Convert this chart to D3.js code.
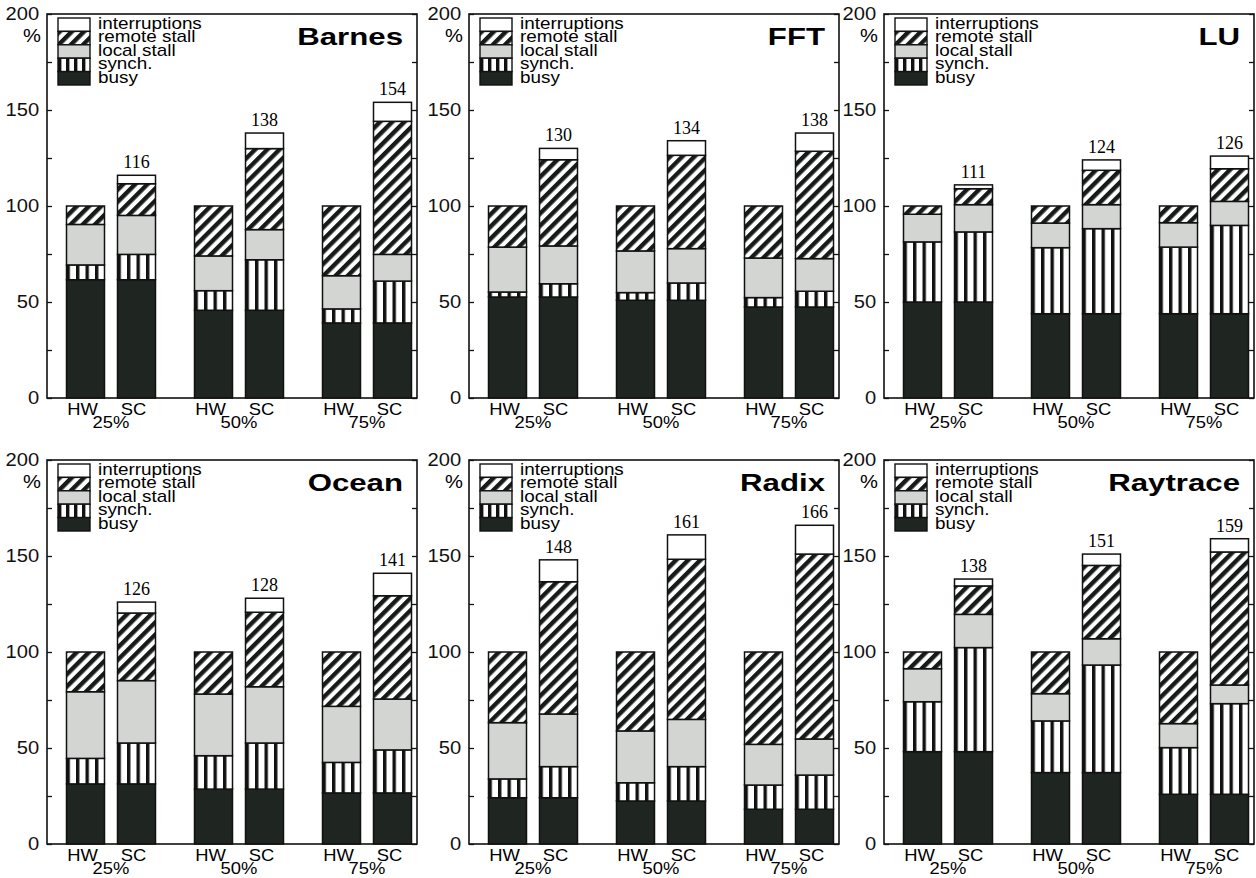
<!DOCTYPE html>
<html>
<head>
<meta charset="utf-8">
<script src="https://cdn.jsdelivr.net/npm/d3@7"></script>
<style>
  body { margin: 0; background: #fff; }
  svg { display: block; }
</style>
</head>
<body>
<div id="chart"></div>
<script>
// benchmarks, one panel each (row-major)
const benchmarks = ['Barnes', 'FFT', 'LU', 'Ocean', 'Radix', 'Raytrace'];
const procs = ['25%', '50%', '75%'];
const systems = ['HW', 'SC'];
const layers = ['busy', 'synch', 'local', 'remote', 'interrupts'];
const legendKeys = ['interrupts', 'remote', 'local', 'synch', 'busy'];
const legendLabels = ['interruptions', 'remote stall', 'local stall', 'synch.', 'busy'];

// segment values, order per benchmark: HW 25, SC 25, HW 50, SC 50, HW 75, SC 75
const busy = [
  [61.6, 61.6, 45.7, 45.7, 39.1, 39.1],
  [52.6, 52.6, 50.9, 50.9, 47.4, 47.4],
  [50.0, 50.0, 43.9, 43.9, 43.9, 43.9],
  [31.3, 31.3, 28.6, 28.6, 26.6, 26.6],
  [24.1, 24.1, 22.4, 22.4, 18.1, 18.1],
  [48.1, 48.1, 37.2, 37.2, 25.9, 25.9]
];
const synch = [
  [7.7, 13.2, 10.2, 26.3, 7.3, 21.8],
  [2.6, 6.9, 4.0, 9.0, 4.9, 8.2],
  [31.3, 36.5, 34.4, 44.3, 34.7, 46.0],
  [13.3, 21.3, 17.4, 24.0, 15.9, 22.4],
  [9.8, 16.2, 9.5, 17.9, 12.6, 17.8],
  [26.0, 54.2, 26.9, 56.0, 24.3, 47.2]
];
const local = [
  [21.1, 20.3, 18.1, 15.7, 17.3, 13.9],
  [23.4, 19.7, 21.7, 17.9, 20.6, 17.0],
  [14.4, 14.2, 12.8, 12.5, 12.7, 12.5],
  [34.7, 32.5, 32.1, 29.3, 29.2, 26.5],
  [29.3, 27.4, 27.0, 24.6, 21.2, 18.8],
  [17.2, 17.3, 14.2, 13.7, 12.5, 9.7]
];
const remote = [
  [9.6, 16.5, 26.0, 42.2, 36.3, 69.3],
  [21.4, 44.9, 23.4, 48.6, 27.1, 55.9],
  [4.3, 8.3, 8.9, 17.9, 8.7, 17.0],
  [20.7, 35.2, 21.9, 38.8, 28.3, 53.8],
  [36.8, 68.9, 41.1, 83.4, 48.1, 96.3],
  [8.7, 14.8, 21.7, 38.2, 37.3, 69.3]
];
const interrupts = [
  [0, 4.4, 0, 8.1, 0, 9.9],
  [0, 5.9, 0, 7.6, 0, 9.5],
  [0, 2.0, 0, 5.4, 0, 6.6],
  [0, 5.7, 0, 7.3, 0, 11.7],
  [0, 11.4, 0, 12.7, 0, 15.0],
  [0, 3.6, 0, 5.9, 0, 6.9]
];
// numbers printed above the SC bars
const scTotals = [
  [116, 138, 154],
  [130, 134, 138],
  [111, 124, 126],
  [126, 128, 141],
  [148, 161, 166],
  [138, 151, 159]
];
const yTicks = [0, 25, 50, 75, 100, 125, 150, 175, 200];

const width = 1256, height = 878,
    panelLeft = [47, 469, 884],
    panelTop = [14, 460],
    panelW = 370, panelH = 384;

const sans = '"Liberation Sans", Arial, Helvetica, sans-serif',
    serif = '"Liberation Serif", "Times New Roman", serif';

const svg = d3.select('#chart').append('svg')
    .attr('width', width)
    .attr('height', height);

const defs = svg.append('defs');

// vertical stripes, 4 per bar, aligned on each bar
let vs = defs.append('pattern')
    .attr('id', 'vstripe')
    .attr('patternUnits', 'objectBoundingBox')
    .attr('patternContentUnits', 'userSpaceOnUse')
    .attr('width', 0.25).attr('height', 1);
vs.append('rect').attr('width', 40).attr('height', 2000).attr('fill', '#fff');
vs.append('rect').attr('width', 3.4).attr('height', 2000).attr('fill', '#111');

// diagonal hatch
let hatch = defs.append('pattern')
    .attr('id', 'hatch')
    .attr('patternUnits', 'userSpaceOnUse')
    .attr('width', 8.6).attr('height', 8.6)
    .attr('patternTransform', 'rotate(45)');
hatch.append('rect').attr('width', 8.6).attr('height', 8.6).attr('fill', '#fff');
hatch.append('rect').attr('width', 4.4).attr('height', 8.6).attr('fill', '#161a18');

const fills = {
  busy: '#1f2521',
  synch: 'url(#vstripe)',
  local: '#d3d5d3',
  remote: 'url(#hatch)',
  interrupts: '#fff'
};

const y = d3.scaleLinear().domain([0, 200]).range([panelH, 0]);
const xGroup = d3.scaleBand().domain(procs).range([0, 384]);
const xSys = d3.scaleBand().domain(systems).range([19.5, 108.5]).paddingInner(0.255);
const stack = d3.stack().keys(layers);

benchmarks.forEach((name, b) => {
  let g = svg.append('g')
      .attr('transform', `translate(${panelLeft[b % 3]}, ${panelTop[Math.floor(b / 3)]})`);

  let rows = [];
  procs.forEach((p, i) => systems.forEach((s, j) => {
    let k = i * 2 + j;
    rows.push({proc: p, sys: s, busy: busy[b][k], synch: synch[b][k],
      local: local[b][k], remote: remote[b][k], interrupts: interrupts[b][k]});
  }));

  // frame
  g.append('rect')
      .attr('width', panelW).attr('height', panelH)
      .attr('fill', 'none').attr('stroke', '#111').attr('stroke-width', 1.6);

  // bars
  g.selectAll('g.layer')
      .data(stack(rows))
      .join('g')
      .attr('class', 'layer')
      .selectAll('rect')
      .data(d => d.map(v => Object.assign(v, {key: d.key})).filter(v => v[1] - v[0] > 0))
      .join('rect')
      .attr('x', d => xGroup(d.data.proc) + xSys(d.data.sys))
      .attr('y', d => y(d[1]))
      .attr('width', xSys.bandwidth())
      .attr('height', d => y(d[0]) - y(d[1]))
      .attr('fill', d => fills[d.key])
      .attr('stroke', '#111')
      .attr('stroke-width', 1.5);

  // totals over SC bars
  g.selectAll('text.total')
      .data(procs.map((p, i) => ({proc: p, v: scTotals[b][i]})))
      .join('text')
      .attr('class', 'total')
      .attr('x', d => xGroup(d.proc) + xSys('SC') + xSys.bandwidth() / 2)
      .attr('y', d => y(d.v) - 7)
      .attr('text-anchor', 'middle')
      .style('font-family', serif)
      .style('font-size', '18px')
      .text(d => d.v);

  // y axis, ticks inside
  let yAxis = g.append('g')
      .call(d3.axisLeft(y).tickValues(yTicks).tickSize(-5).tickPadding(7)
          .tickFormat(d => d % 50 === 0 ? d : ''));
  yAxis.select('.domain').remove();
  yAxis.selectAll('line').attr('stroke', '#111').attr('stroke-width', 1.3);
  yAxis.selectAll('text')
      .attr('transform', 'scale(1.12,1)')
      .style('font-family', sans)
      .style('font-size', '18px')
      .attr('fill', '#111');

  let yAxisR = g.append('g')
      .attr('transform', `translate(${panelW}, 0)`)
      .call(d3.axisRight(y).tickValues(yTicks).tickSize(-5).tickFormat(''));
  yAxisR.select('.domain').remove();
  yAxisR.selectAll('line').attr('stroke', '#111').attr('stroke-width', 1.3);

  g.append('text')
      .attr('transform', 'translate(-15, 28) scale(1.12,1)')
      .attr('text-anchor', 'middle')
      .style('font-family', sans)
      .style('font-size', '18px')
      .text('%');

  // x labels
  procs.forEach(p => {
    systems.forEach(s => {
      g.append('text')
          .attr('transform', `translate(${xGroup(p) + xSys(s) + xSys.bandwidth() / 2 - 3}, ${panelH + 17}) scale(1.15,1)`)
          .attr('text-anchor', 'middle')
          .style('font-family', sans)
          .style('font-size', '16px')
          .text(s);
    });
    g.append('text')
        .attr('transform', `translate(${xGroup(p) + xGroup.bandwidth() / 2}, ${panelH + 30}) scale(1.15,1)`)
        .attr('text-anchor', 'middle')
        .style('font-family', sans)
        .style('font-size', '16px')
        .text(p);
  });

  // legend
  let leg = g.append('g').attr('transform', 'translate(11, 4)');
  legendKeys.forEach((k, i) => {
    leg.append('rect')
        .attr('y', i * 13.4)
        .attr('width', 32).attr('height', 13.4)
        .attr('fill', fills[k])
        .attr('stroke', '#111').attr('stroke-width', 1.4);
    leg.append('text')
        .attr('transform', `translate(40, ${i * 13.4 + 11}) scale(1.18,1)`)
        .style('font-family', sans)
        .style('font-size', '16px')
        .text(legendLabels[i]);
  });

  // panel title
  g.append('text')
      .attr('transform', 'translate(356, 31) scale(1.3,1)')
      .attr('text-anchor', 'end')
      .style('font-family', sans)
      .style('font-weight', 'bold')
      .style('font-size', '24px')
      .text(name);
});
</script>
</body>
</html>
